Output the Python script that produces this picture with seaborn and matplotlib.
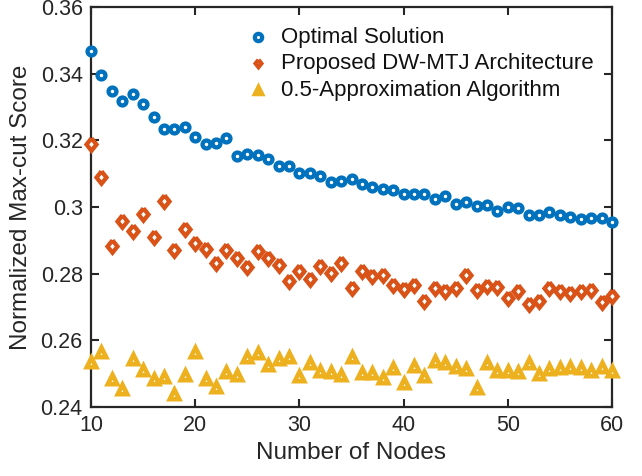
import numpy as np
import pandas as pd
import matplotlib
matplotlib.use("Agg")
import matplotlib.pyplot as plt
import seaborn as sns

nodes = list(range(10, 61))

optimal = [0.3469, 0.3396, 0.3348, 0.3319, 0.3340, 0.3309, 0.3269, 0.3234, 0.3234, 0.3241,
           0.3211, 0.3189, 0.3191, 0.3208, 0.3153, 0.3159, 0.3157, 0.3143, 0.3124, 0.3124,
           0.3103, 0.3103, 0.3093, 0.3076, 0.3078, 0.3084, 0.3069, 0.3061, 0.3054, 0.3051,
           0.3039, 0.3039, 0.3039, 0.3023, 0.3033, 0.3009, 0.3014, 0.3004, 0.3006, 0.2989,
           0.3001, 0.2996, 0.2976, 0.2976, 0.2986, 0.2977, 0.2971, 0.2963, 0.2968, 0.2968,
           0.2956]

proposed = [0.3189, 0.3091, 0.2883, 0.2959, 0.2929, 0.2978, 0.2911, 0.3018, 0.2871, 0.2934,
            0.2891, 0.2874, 0.2831, 0.2871, 0.2846, 0.2819, 0.2869, 0.2848, 0.2826, 0.2779,
            0.2809, 0.2784, 0.2824, 0.2801, 0.2831, 0.2756, 0.2809, 0.2793, 0.2796, 0.2766,
            0.2754, 0.2766, 0.2718, 0.2756, 0.2749, 0.2756, 0.2796, 0.2751, 0.2764, 0.2761,
            0.2726, 0.2749, 0.2710, 0.2718, 0.2756, 0.2749, 0.2741, 0.2749, 0.2751, 0.2716,
            0.2733]

approx = [0.2534, 0.2566, 0.2483, 0.2453, 0.2543, 0.2511, 0.2484, 0.2491, 0.2438, 0.2496,
          0.2566, 0.2484, 0.2459, 0.2506, 0.2496, 0.2551, 0.2563, 0.2526, 0.2543, 0.2549,
          0.2493, 0.2533, 0.2508, 0.2504, 0.2496, 0.2551, 0.2503, 0.2501, 0.2486, 0.2516,
          0.2473, 0.2523, 0.2493, 0.2538, 0.2533, 0.2521, 0.2514, 0.2456, 0.2533, 0.2508,
          0.2509, 0.2506, 0.2531, 0.2499, 0.2513, 0.2516, 0.2519, 0.2518, 0.2509, 0.2521,
          0.2509]

series_names = ["Optimal Solution", "Proposed DW-MTJ Architecture", "0.5-Approximation Algorithm"]
x_ticks = [10, 20, 30, 40, 50, 60]
y_ticks = [0.24, 0.26, 0.28, 0.30, 0.32, 0.34, 0.36]
y_tick_labels = ["0.24", "0.26", "0.28", "0.3", "0.32", "0.34", "0.36"]

df = pd.DataFrame({
    "nodes": nodes * 3,
    "score": optimal + proposed + approx,
    "series": [series_names[0]] * len(nodes) + [series_names[1]] * len(nodes) + [series_names[2]] * len(nodes),
})

sns.set_style("ticks")
plt.rcParams["font.family"] = ["Liberation Sans", "DejaVu Sans"]

fig = plt.figure(figsize=(6.42, 4.76), dpi=100)
ax = fig.add_axes([91 / 642, 1 - 407 / 476, (612 - 91) / 642, (407 - 7) / 476])

colors = ["#0072BD", "#D95319", "#EDB120"]
diamond = [(0, 1), (0.8, 0), (0, -1), (-0.8, 0), (0, 1)]
markers = ["o", diamond, "^"]
sizes = [32, 80, 46]
lws = [3.1, 3.1, 3.3]

for name, c, m, s, lw in zip(series_names, colors, markers, sizes, lws):
    sub = df[df["series"] == name]
    sns.scatterplot(data=sub, x="nodes", y="score", ax=ax, marker=m, s=s,
                    facecolor="white", edgecolor=c, linewidth=lw, label=name,
                    zorder=5, clip_on=False)
for coll in ax.collections:
    coll.set_joinstyle("miter")

ax.set_xlim(10, 60)
ax.set_ylim(0.24, 0.36)
ax.set_xticks(x_ticks)
ax.set_yticks(y_ticks)
ax.set_yticklabels(y_tick_labels)
ax.tick_params(direction="in", length=6, width=1.5, labelsize=15.5, colors="#262626",
               top=True, right=True, pad=6)
for sp in ax.spines.values():
    sp.set_visible(True)
    sp.set_linewidth(1.6)
    sp.set_color("#262626")
    sp.set_zorder(4)

ax.set_xlabel("Number of Nodes", fontsize=17.5, color="#262626", labelpad=4)
ax.set_ylabel("Normalized Max-cut Score", fontsize=17.5, color="#262626", labelpad=6)

leg = ax.legend(loc="upper right", frameon=False, fontsize=16, handletextpad=0.3,
                labelspacing=0.25, borderaxespad=0.3, handlelength=1.5,
                bbox_to_anchor=(0.995, 0.99))
for h in leg.legend_handles:
    try:
        h.set_sizes([28])
        h.set_linewidth(3.0)
        h.set_joinstyle("miter")
    except Exception:
        pass
for t in leg.get_texts():
    t.set_color("#111111")

fig.savefig("out.png", dpi=100)
